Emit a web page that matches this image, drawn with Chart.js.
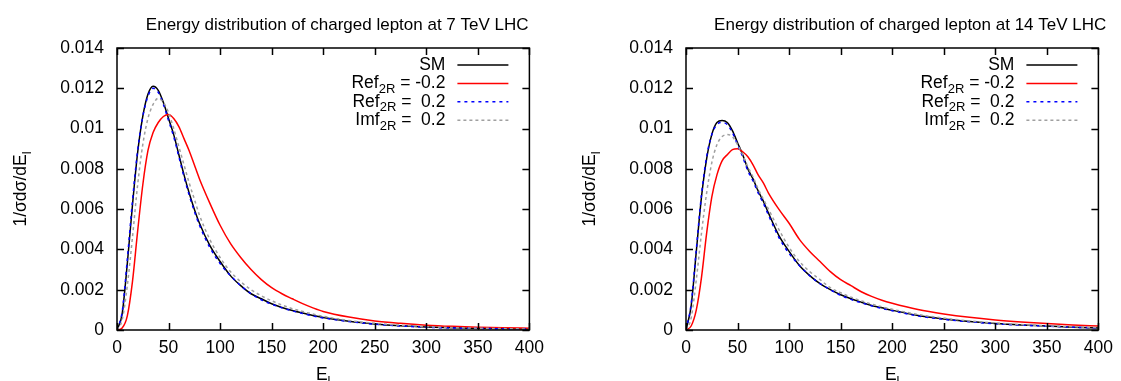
<!DOCTYPE html>
<html>
<head>
<meta charset="utf-8">
<script src="https://cdn.jsdelivr.net/npm/chart.js@4.4.1/dist/chart.umd.min.js"></script>
<style>
  html, body { margin: 0; padding: 0; background: #fff; }
  #wrap { position: relative; width: 1121px; height: 381px; overflow: hidden; }
  .panel { position: absolute; top: 0; width: 552px; height: 381px; }
</style>
</head>
<body>
<div id="wrap">
  <div class="panel" style="left:0"><canvas id="c7" width="552" height="381"></canvas></div>
  <div class="panel" style="left:569px"><canvas id="c14" width="552" height="381"></canvas></div>
</div>
<script>
// lepton energy E_l (GeV)
const energy = [0, 5, 10, 15, 20, 25, 30, 35, 40, 45, 50, 55, 60, 65, 70, 75, 80, 90, 100, 110, 120,
  130, 140, 150, 160, 170, 180, 190, 200, 225, 250, 275, 300, 325, 350, 375, 400];

// 7 TeV
const sm7 = [0, .0008, .0033, .0062, .0088, .0106, .0117, .0121, .0119, .0113, .0105, .0097, .0087, .0077, .0068, .0060, .0053, .0042, .0034, .0027, .0022,
  .0018, .00155, .0013, .00112, .00097, .00084, .00072, .00062, .00043, .0003, .00021, .00015, .00011, .00008, .00006, .00005];
const refm7 = [0, .0001, .0007, .0024, .0049, .0072, .0089, .0098, .0103, .0106, .0107, .0105, .0101, .0095, .0089, .0082, .0075, .0063, .0052, .0043, .0036,
  .0030, .0025, .0021, .0018, .00155, .00131, .0011, .00092, .00064, .00045, .00033, .00024, .00018, .00014, .00011, .00009];
const refp7 = [0, .0009, .0035, .0064, .0089, .0106, .0116, .0120, .0118, .0112, .0104, .0096, .0086, .0076, .0067, .0059, .0052, .0041, .0033, .0027, .0022,
  .0018, .0015, .00128, .0011, .00095, .00082, .0007, .0006, .00042, .00029, .0002, .00014, .0001, .00008, .00006, .00005];
const imf7 = [0, .0005, .0022, .0046, .0072, .0092, .0105, .0112, .0115, .0113, .0108, .0100, .0091, .0082, .0073, .0065, .0057, .0045, .0036, .0029, .0024,
  .0020, .0017, .00145, .00124, .00106, .00092, .00079, .00068, .00047, .00033, .00024, .00017, .00012, .00009, .00007, .00005];

// 14 TeV
const sm14 = [0, .0012, .0039, .0066, .0085, .0097, .0103, .0104, .0103, .0099, .0093, .0087, .0080, .0075, .0069, .0064, .0058, .0047, .0039, .0032, .0027,
  .0023, .0020, .00175, .00155, .00138, .00122, .0011, .00098, .00072, .00055, .00042, .00032, .00025, .0002, .00014, .0001];
const refm14 = [0, .0002, .0010, .0026, .0048, .0066, .0077, .0084, .0087, .00895, .0090, .00885, .0086, .0082, .0077, .0073, .0068, .0060, .0053, .0045, .0039,
  .0034, .0029, .0025, .0022, .0019, .00167, .00148, .00133, .00102, .0008, .00063, .0005, .0004, .00032, .00025, .0002];
const refp14 = [0, .0013, .0040, .0067, .0086, .0097, .0102, .0103, .0102, .0098, .0092, .0086, .0079, .0074, .0068, .0063, .0057, .0046, .0038, .0032, .0027,
  .0023, .0020, .00172, .00152, .00135, .0012, .00107, .00096, .0007, .00053, .00041, .00031, .00024, .00019, .00014, .0001];
const imf14 = [0, .0006, .0025, .0048, .0068, .0083, .0092, .0096, .0097, .0096, .0092, .0087, .0081, .0076, .0070, .0065, .0060, .0050, .0041, .0034, .0029,
  .0025, .0021, .00185, .00163, .00145, .00128, .00115, .00103, .00077, .00059, .00045, .00035, .00027, .00021, .00016, .00012];

// legend text pieces: main, subscript, rest
const legendMain = ["SM", "Ref", "Ref", "Imf"];
const legendSub = ["", "2R", "2R", "2R"];
const legendRest = ["", " = -0.2", " =  0.2", " =  0.2"];

const xTickLabels = ["0", "50", "100", "150", "200", "250", "300", "350", "400"];
const yTickLabels = ["0", "0.002", "0.004", "0.006", "0.008", "0.01", "0.012", "0.014"];

const FONT = '"Liberation Sans", Arial, Helvetica, sans-serif';
Chart.defaults.font.family = FONT;
Chart.defaults.color = "#000";

// gnuplot style frame, inward ticks, titles and legend
const gnuplotLook = {
  id: "gnuplotLook",
  afterDraw(chart, args, opts) {
    const { ctx, chartArea: a } = chart;
    const xs = chart.scales.x, ys = chart.scales.y;
    ctx.save();
    ctx.strokeStyle = "#000";
    ctx.lineWidth = 1.5;
    ctx.setLineDash([]);
    ctx.beginPath();
    xs.ticks.forEach(t => {
      const px = Math.round(xs.getPixelForValue(t.value)) + 0.5;
      ctx.moveTo(px, a.bottom); ctx.lineTo(px, a.bottom - 7);
      ctx.moveTo(px, a.top); ctx.lineTo(px, a.top + 7);
    });
    ys.ticks.forEach(t => {
      const py = Math.round(ys.getPixelForValue(t.value)) + 0.5;
      ctx.moveTo(a.left, py); ctx.lineTo(a.left + 7, py);
      ctx.moveTo(a.right, py); ctx.lineTo(a.right - 7, py);
    });
    ctx.stroke();
    ctx.strokeRect(a.left, a.top, a.right - a.left, a.bottom - a.top);

    ctx.fillStyle = "#000";
    // title
    ctx.font = "17px " + FONT;
    ctx.textAlign = "center";
    ctx.textBaseline = "alphabetic";
    ctx.fillText(opts.title, (a.left + a.right) / 2 + opts.titleShift, 30);

    // x axis title E_l
    const cx = (a.left + a.right) / 2;
    ctx.font = "17.5px " + FONT;
    const wE = ctx.measureText("E").width;
    ctx.font = "13px " + FONT;
    const wl = ctx.measureText("l").width;
    ctx.textAlign = "left";
    ctx.font = "17.5px " + FONT;
    ctx.fillText("E", cx - (wE + wl) / 2, 380);
    ctx.font = "13px " + FONT;
    ctx.fillText("l", cx - (wE + wl) / 2 + wE, 385);

    // y axis title 1/σdσ/dE_l
    ctx.save();
    ctx.translate(21, (a.top + a.bottom) / 2);
    ctx.rotate(-Math.PI / 2);
    ctx.font = "17.5px " + FONT;
    const yt = "1/\u03c3d\u03c3/dE";
    const wy = ctx.measureText(yt).width;
    ctx.textBaseline = "middle";
    ctx.fillText(yt, -(wy + wl) / 2, 0);
    ctx.font = "13px " + FONT;
    ctx.fillText("l", -(wy + wl) / 2 + wy, 6);
    ctx.restore();

    // legend
    chart.data.datasets.forEach((ds, i) => {
      const ly = a.top + 17 + i * 18.4;
      ctx.strokeStyle = ds.borderColor;
      ctx.lineWidth = ds.borderWidth;
      ctx.setLineDash(ds.borderDash || []);
      ctx.beginPath();
      ctx.moveTo(a.right - 72, ly);
      ctx.lineTo(a.right - 21, ly);
      ctx.stroke();

      let xe = a.right - 84;
      ctx.textBaseline = "middle";
      ctx.textAlign = "right";
      ctx.font = "17.5px " + FONT;
      if (legendRest[i]) {
        ctx.fillText(legendRest[i], xe, ly);
        xe -= ctx.measureText(legendRest[i]).width;
      }
      if (legendSub[i]) {
        ctx.font = "13px " + FONT;
        ctx.fillText(legendSub[i], xe, ly + 6);
        xe -= ctx.measureText(legendSub[i]).width;
      }
      ctx.font = "17.5px " + FONT;
      ctx.fillText(legendMain[i], xe, ly);
    });
    ctx.restore();
  }
};

function pts(arr) {
  return energy.map((e, i) => ({ x: e, y: arr[i] }));
}

function makeChart(id, title, titleShift, sm, refm, refp, imf) {
  return new Chart(document.getElementById(id), {
    type: "line",
    data: {
      datasets: [
        { label: "SM", data: pts(sm), borderColor: "#000000", borderWidth: 1.5, order: 4 },
        { label: "Ref2R = -0.2", data: pts(refm), borderColor: "#ff0000", borderWidth: 1.5, order: 3 },
        { label: "Ref2R = 0.2", data: pts(refp), borderColor: "#0000ff", borderWidth: 1.5, borderDash: [3, 4], order: 2 },
        { label: "Imf2R = 0.2", data: pts(imf), borderColor: "#a0a0a0", borderWidth: 1.5, borderDash: [3, 3], order: 1 },
      ],
    },
    options: {
      responsive: false,
      animation: false,
      devicePixelRatio: 1,
      elements: {
        point: { radius: 0 },
        line: { cubicInterpolationMode: "monotone", fill: false },
      },
      layout: { padding: { top: 48, right: 21, left: 0, bottom: 0 } },
      plugins: {
        legend: { display: false },
        tooltip: { enabled: false },
        title: { display: false },
        gnuplotLook: { title: title, titleShift: titleShift },
      },
      scales: {
        x: {
          type: "linear",
          min: 0,
          max: 400,
          grid: { display: false, drawTicks: false },
          border: { display: false },
          ticks: {
            stepSize: 50,
            padding: 8,
            maxRotation: 0,
            font: { size: 17.5 },
            callback: (v, i) => xTickLabels[i],
          },
          afterFit: s => { s.height = 51; },
        },
        y: {
          min: 0,
          max: 0.014,
          grid: { display: false, drawTicks: false },
          border: { display: false },
          ticks: {
            stepSize: 0.002,
            padding: 13,
            font: { size: 17.5 },
            callback: (v, i) => yTickLabels[i],
          },
          afterFit: s => { s.width = 117; },
        },
      },
    },
    plugins: [gnuplotLook],
  });
}

makeChart("c7", "Energy distribution of charged lepton at 7 TeV LHC", 14, sm7, refm7, refp7, imf7);
makeChart("c14", "Energy distribution of charged lepton at 14 TeV LHC", 18, sm14, refm14, refp14, imf14);
</script>
</body>
</html>
